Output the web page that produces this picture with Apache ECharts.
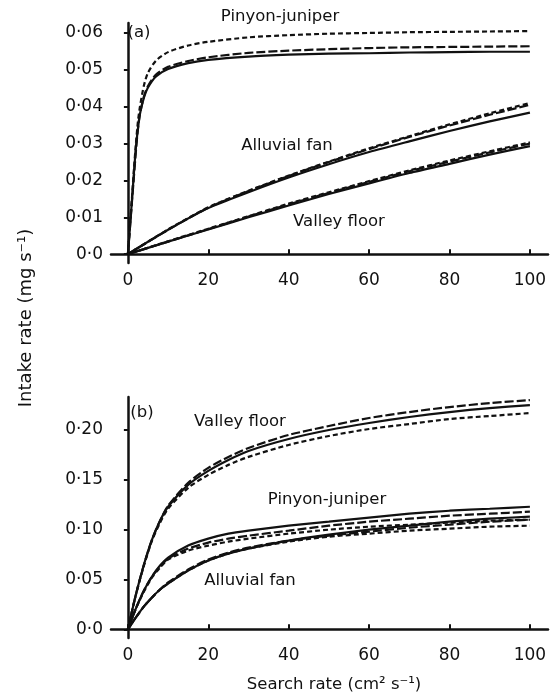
<!DOCTYPE html>
<html>
<head>
<meta charset="utf-8">
<script src="https://cdn.jsdelivr.net/npm/echarts@6/dist/echarts.min.js"></script>
<style>
  html, body { margin: 0; padding: 0; background: #fff; }
  #chart { width: 558px; height: 698px; }
</style>
</head>
<body>
<div id="chart"></div>
<script>
// search rate values (cm2 s-1)
const xPinyonA = [0, 0.5, 1, 1.5, 2, 2.5, 3, 4, 5, 7, 10, 15, 20, 30, 40, 50, 60, 70, 80, 90, 100];
const xLinearA = [0, 10, 20, 30, 40, 50, 60, 70, 80, 90, 100];
const xB = [0, 2, 4, 6, 8, 10, 15, 20, 25, 30, 40, 50, 60, 70, 80, 90, 100];

// panel (a)
const pinyonASolid = [0, 0.007, 0.0145, 0.022, 0.029, 0.034, 0.038, 0.0425, 0.0452, 0.0482, 0.0502, 0.0518, 0.0527, 0.0536, 0.0541, 0.0544, 0.0545, 0.0547, 0.0548, 0.0549, 0.0549];
const pinyonALong = [0, 0.007, 0.014, 0.021, 0.028, 0.034, 0.038, 0.0428, 0.0456, 0.0487, 0.0508, 0.0524, 0.0534, 0.0546, 0.0552, 0.0556, 0.0559, 0.0561, 0.0562, 0.0563, 0.0564];
const pinyonAShort = [0, 0.0075, 0.015, 0.023, 0.030, 0.036, 0.040, 0.0458, 0.0492, 0.0525, 0.0548, 0.0566, 0.0576, 0.0588, 0.0594, 0.0598, 0.0600, 0.0602, 0.0603, 0.0604, 0.0605];
const alluvialASolid = [0, 0.0066, 0.0125, 0.0168, 0.0208, 0.0244, 0.0277, 0.0306, 0.0334, 0.0360, 0.0384];
const alluvialALong = [0, 0.0066, 0.0126, 0.0171, 0.0212, 0.0250, 0.0285, 0.0318, 0.0349, 0.0378, 0.0405];
const alluvialAShort = [0, 0.0067, 0.0127, 0.0172, 0.0213, 0.0251, 0.0287, 0.0320, 0.0352, 0.0382, 0.0410];
const valleyASolid = [0, 0.0034, 0.0067, 0.0100, 0.0132, 0.0163, 0.0192, 0.0220, 0.0245, 0.0270, 0.0293];
const valleyALong = [0, 0.0034, 0.0068, 0.0102, 0.0135, 0.0166, 0.0196, 0.0225, 0.0251, 0.0276, 0.0300];
const valleyAShort = [0, 0.0035, 0.0069, 0.0103, 0.0137, 0.0168, 0.0198, 0.0227, 0.0254, 0.0279, 0.0303];

// panel (b)
const valleyBSolid = [0, 0.035, 0.065, 0.090, 0.109, 0.123, 0.145, 0.159, 0.170, 0.179, 0.191, 0.200, 0.207, 0.213, 0.218, 0.222, 0.225];
const valleyBLong = [0, 0.035, 0.065, 0.090, 0.109, 0.124, 0.147, 0.162, 0.173, 0.182, 0.195, 0.204, 0.212, 0.218, 0.223, 0.227, 0.230];
const valleyBShort = [0, 0.035, 0.064, 0.089, 0.107, 0.121, 0.142, 0.155, 0.165, 0.173, 0.185, 0.194, 0.201, 0.206, 0.211, 0.214, 0.217];
const pinyonBSolid = [0, 0.021, 0.039, 0.053, 0.064, 0.072, 0.084, 0.091, 0.096, 0.099, 0.104, 0.108, 0.112, 0.116, 0.119, 0.121, 0.123];
const pinyonBLong = [0, 0.021, 0.039, 0.053, 0.063, 0.071, 0.081, 0.087, 0.091, 0.094, 0.099, 0.104, 0.108, 0.111, 0.114, 0.116, 0.118];
const pinyonBShort = [0, 0.021, 0.038, 0.052, 0.062, 0.070, 0.079, 0.084, 0.088, 0.091, 0.096, 0.100, 0.103, 0.105, 0.107, 0.109, 0.110];
const alluvialBSolid = [0, 0.012, 0.023, 0.032, 0.040, 0.046, 0.059, 0.069, 0.076, 0.081, 0.089, 0.095, 0.100, 0.104, 0.108, 0.111, 0.113];
const alluvialBLong = [0, 0.012, 0.023, 0.032, 0.040, 0.047, 0.060, 0.070, 0.077, 0.082, 0.089, 0.094, 0.098, 0.102, 0.105, 0.108, 0.110];
const alluvialBShort = [0, 0.012, 0.023, 0.032, 0.040, 0.046, 0.059, 0.069, 0.076, 0.081, 0.088, 0.093, 0.096, 0.099, 0.101, 0.103, 0.104];

// ticks
const xTicks = [0, 20, 40, 60, 80, 100];
const xTickLabels = ["0", "20", "40", "60", "80", "100"];
const yTicksA = [0, 0.01, 0.02, 0.03, 0.04, 0.05, 0.06];
const yTickLabelsA = ["0·0", "0·01", "0·02", "0·03", "0·04", "0·05", "0·06"];
const yTicksB = [0, 0.05, 0.10, 0.15, 0.20];
const yTickLabelsB = ["0·0", "0·05", "0·10", "0·15", "0·20"];

const FONT = "DejaVu Sans";
const INK = "#111";
const SHORT_DASH = [5, 3];
const LONG_DASH = [9, 3];

const chart = echarts.init(document.getElementById("chart"));

function xAxisFor(idx) {
  return {
    type: "value",
    gridIndex: idx,
    min: -4.2,
    max: 104.5,
    axisLine: { show: true, lineStyle: { color: INK, width: 2.5 } },
    axisTick: { show: true, inside: true, length: 5, customValues: xTicks, lineStyle: { color: INK, width: 2 } },
    axisLabel: {
      customValues: xTicks,
      margin: 9,
      color: INK,
      fontFamily: FONT,
      fontSize: 17,
      formatter: (v) => xTickLabels[xTicks.indexOf(v)],
    },
    splitLine: { show: false },
  };
}

function yAxisFor(idx, min, max, ticks, labels) {
  return {
    type: "value",
    gridIndex: idx,
    min: min,
    max: max,
    axisLine: { show: true, lineStyle: { color: INK, width: 2.5 } },
    axisTick: { show: true, length: 4, customValues: ticks, lineStyle: { color: INK, width: 2 } },
    axisLabel: {
      customValues: ticks,
      margin: 8,
      color: INK,
      fontFamily: FONT,
      fontSize: 17,
      formatter: (v) => labels[ticks.indexOf(v)],
    },
    splitLine: { show: false },
  };
}

function curve(name, idx, xs, ys, dash) {
  return {
    name: name,
    type: "line",
    xAxisIndex: idx,
    yAxisIndex: idx,
    data: xs.map((x, i) => [x, ys[i]]),
    showSymbol: false,
    smooth: 0.25,
    silent: true,
    lineStyle: { color: INK, width: 2.2, type: dash },
  };
}

function note(text, x, y, rotation, size) {
  return {
    type: "text",
    x: x,
    y: y,
    rotation: rotation || 0,
    style: { text: text, font: (size || 16.5) + "px '" + FONT + "'", fill: INK, align: "center", verticalAlign: "middle" },
  };
}

chart.setOption({
  backgroundColor: "#fff",
  animation: false,
  grid: [
    { left: 111, top: 23, width: 437, height: 240 },
    { left: 111, top: 397, width: 437, height: 241 },
  ],
  xAxis: [xAxisFor(0), xAxisFor(1)],
  yAxis: [
    yAxisFor(0, -0.0024, 0.0627, yTicksA, yTickLabelsA),
    yAxisFor(1, -0.0087, 0.2331, yTicksB, yTickLabelsB),
  ],
  series: [
    curve("Pinyon-juniper", 0, xPinyonA, pinyonASolid, "solid"),
    curve("Pinyon-juniper", 0, xPinyonA, pinyonALong, LONG_DASH),
    curve("Pinyon-juniper", 0, xPinyonA, pinyonAShort, SHORT_DASH),
    curve("Alluvial fan", 0, xLinearA, alluvialASolid, "solid"),
    curve("Alluvial fan", 0, xLinearA, alluvialALong, LONG_DASH),
    curve("Alluvial fan", 0, xLinearA, alluvialAShort, SHORT_DASH),
    curve("Valley floor", 0, xLinearA, valleyASolid, "solid"),
    curve("Valley floor", 0, xLinearA, valleyALong, LONG_DASH),
    curve("Valley floor", 0, xLinearA, valleyAShort, SHORT_DASH),
    curve("Valley floor", 1, xB, valleyBSolid, "solid"),
    curve("Valley floor", 1, xB, valleyBLong, LONG_DASH),
    curve("Valley floor", 1, xB, valleyBShort, SHORT_DASH),
    curve("Pinyon-juniper", 1, xB, pinyonBSolid, "solid"),
    curve("Pinyon-juniper", 1, xB, pinyonBLong, LONG_DASH),
    curve("Pinyon-juniper", 1, xB, pinyonBShort, SHORT_DASH),
    curve("Alluvial fan", 1, xB, alluvialBSolid, "solid"),
    curve("Alluvial fan", 1, xB, alluvialBLong, LONG_DASH),
    curve("Alluvial fan", 1, xB, alluvialBShort, SHORT_DASH),
  ],
  graphic: [
    note("(a)", 139, 33),
    note("Pinyon-juniper", 280, 17),
    note("Alluvial fan", 287, 146),
    note("Valley floor", 339, 222),
    note("(b)", 142, 413),
    note("Valley floor", 240, 422),
    note("Pinyon-juniper", 327, 500),
    note("Alluvial fan", 250, 581),
    note("Search rate (cm² s⁻¹)", 334, 685),
    note("Intake rate (mg s⁻¹)", 26, 318, Math.PI / 2, 18),
  ],
});
</script>
</body>
</html>
